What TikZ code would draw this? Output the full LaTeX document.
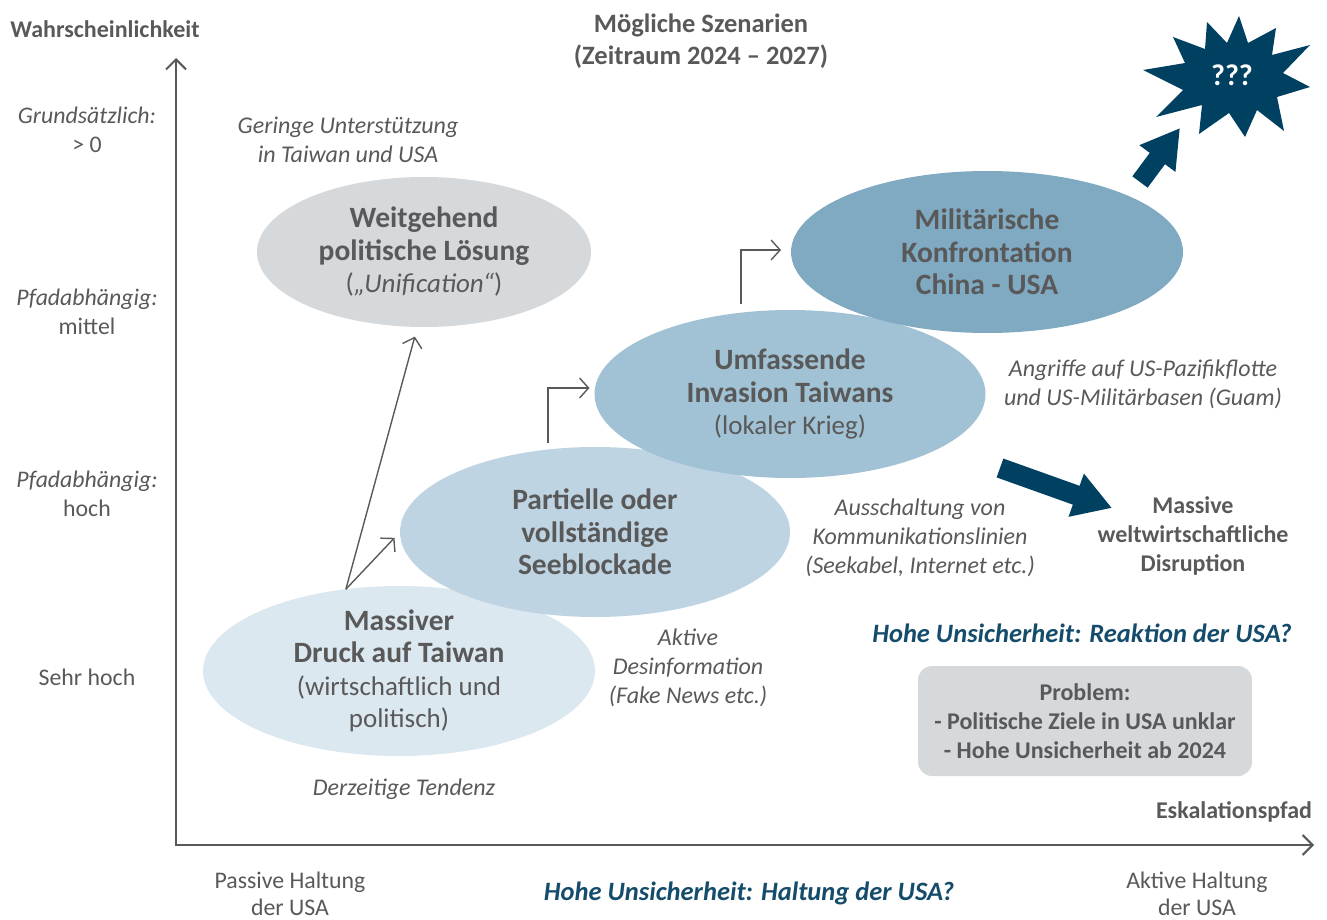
\documentclass[tikz,border=0pt]{standalone}
\usepackage{fontspec}
\setmainfont{Carlito}
\usetikzlibrary{arrows.meta,positioning,shapes.geometric,calc}
\definecolor{txtgray}{HTML}{595959}
\definecolor{deepblue}{HTML}{004060}
\definecolor{qblue}{HTML}{154C6B}
\definecolor{sgray}{HTML}{D5D9DC}
\definecolor{skonf}{HTML}{80A9C2}
\definecolor{sinv}{HTML}{A1C1D4}
\definecolor{ssee}{HTML}{BED4E3}
\definecolor{sdruck}{HTML}{DCE8F0}
\newcommand{\scb}[1]{{\fontsize{29.5}{32.5}\selectfont\bfseries #1}}
\tikzset{
  scen/.style={ellipse,draw=none,inner sep=0pt,outer sep=0pt},
  stext/.style={align=center,text=txtgray,font=\fontsize{27}{32.5}\selectfont},
  snote/.style={align=center,text=txtgray,font=\fontsize{24}{29}\selectfont\itshape},
  slabel/.style={align=center,text=txtgray,font=\fontsize{23.8}{29.5}\selectfont},
  sbold/.style={align=center,text=txtgray,font=\fontsize{24}{29}\selectfont\bfseries},
  squest/.style={text=qblue,font=\fontsize{26.5}{28}\selectfont\bfseries\itshape},
  saxis/.style={{Straight Barb[length=10pt,width=20pt]}-{Straight Barb[length=10pt,width=20pt]},line width=2pt,draw=txtgray},
  sarr/.style={-{Straight Barb[length=9pt,width=20pt]},line width=1.4pt,draw=txtgray},
  sbig/.style={-{Triangle[length=38pt,width=43pt]},line width=20pt,draw=deepblue}
}
\begin{document}
\begin{tikzpicture}[x=1pt,y=-1pt]
  \useasboundingbox (0,0) rectangle (1327,920);
  % axes
  \coordinate (orig) at (176,845);
  \coordinate (ytop) at (176,58);
  \coordinate (xend) at (1314,845);
  \draw[saxis] (ytop) -- (orig) -- (xend);
  \node[sbold] (ylbl) at (105,29) {Wahrscheinlichkeit};
  \node[sbold,font=\fontsize{26.5}{32}\selectfont\bfseries] (title) at (701,41) {Mögliche Szenarien\\(Zeitraum 2024 – 2027)};
  \node[sbold] (xlbl) at (1234,812) {Eskalationspfad};
  \node[slabel] (p0) at (87,130) {\textit{Grundsätzlich:}\\> 0};
  \node[slabel] (p1) at (87,312) {\textit{Pfadabhängig:}\\mittel};
  \node[slabel] (p2) at (87,494) {\textit{Pfadabhängig:}\\hoch};
  \node[slabel] (p3) at (87,677) {Sehr hoch};
  \node[slabel,inner sep=1pt,font=\fontsize{23.8}{27}\selectfont] (passiv) at (290,894) {Passive Haltung\\der USA};
  \node[slabel,inner sep=1pt,font=\fontsize{23.8}{27}\selectfont] (aktiv) at (1197,894) {Aktive Haltung\\der USA};
  \node[squest] (qhalt) at (749,893) {Hohe Unsicherheit: Haltung der USA?};
  % scenarios
  \node[scen,fill=sgray,minimum width=334pt,minimum height=150pt] (loesung) at (424,252) {};
  \node[stext] (loesungt) at (loesung) {\scb{Weitgehend}\\\scb{politische Lösung}\\(\textit{„Unification“})};
  \node[scen,fill=sdruck,minimum width=392pt,minimum height=170pt] (druck) at (399,671) {};
  \node[stext] (druckt) at (druck) {\scb{Massiver}\\\scb{Druck auf Taiwan}\\(wirtschaftlich und\\politisch)};
  \node[scen,fill=ssee,minimum width=390pt,minimum height=170pt] (see) at (595,532) {};
  \node[stext] (seet) at (see) {\scb{Partielle oder}\\\scb{vollständige}\\\scb{Seeblockade}};
  \node[scen,fill=sinv,minimum width=391pt,minimum height=168pt] (inv) at (790,394) {};
  \node[stext] (invt) at (inv) {\scb{Umfassende}\\\scb{Invasion Taiwans}\\(lokaler Krieg)};
  \node[scen,fill=skonf,minimum width=392pt,minimum height=162pt] (konf) at (987,252) {};
  \node[stext] (konft) at (konf) {\scb{Militärische}\\\scb{Konfrontation}\\\scb{China - USA}};
  % paths
  \draw[sarr,shorten >=10pt] (druck.123) -- (loesung.265);
  \draw[sarr,shorten >=8pt] (druck.123) -- (see.west);
  \draw[sarr] ($(see.north)+(-47,-4)$) |- ($(inv.west)+(-5,-6)$);
  \draw[sarr] ($(inv.north)+(-49,-6)$) |- ($(konf.west)+(-10,-2)$);
  % notes
  \node[snote] (gering) at (348,140) {Geringe Unterstützung\\in Taiwan und USA};
  \node[snote] (angriff) at (1143,384) {Angriffe auf US-Pazifikflotte\\und US-Militärbasen (Guam)};
  \node[snote] (kabel) at (920,538) {Ausschaltung von\\Kommunikationslinien\\(Seekabel, Internet etc.)};
  \node[snote] (desinfo) at (688,668) {Aktive\\Desinformation\\(Fake News etc.)};
  \node[snote] (tendenz) at (404,789) {Derzeitige Tendenz};
  \node[sbold] (disrupt) at (1193,536) {Massive\\weltwirtschaftliche\\Disruption};
  \node[squest] (qreakt) at (1082,633) {Hohe Unsicherheit: Reaktion der USA?};
  \node[fill=sgray,rounded corners=14pt,minimum width=334pt,minimum height=110pt] (problem) at (1085,721) {};
  \node[sbold] (problemt) at (problem) {Problem:\\- Politische Ziele in USA unklar\\- Hohe Unsicherheit ab 2024};
  % escalation
  \coordinate (wtail) at (1000,468);
  \coordinate (wtip) at (1112,508);
  \draw[sbig] (wtail) -- (wtip);
  \coordinate (btail) at (1140,182);
  \coordinate (btip) at (1180,128);
  \draw[sbig,line width=19pt,-{Triangle[length=38pt,width=42pt]}] (btail) -- (btip);
  \fill[deepblue] (1239,16) -- (1248,43) -- (1276,28) -- (1272,55) -- (1310,45) -- (1283,73)
    -- (1310,87) -- (1277,97) -- (1284,131) -- (1257,110) -- (1245,137) -- (1229,113)
    -- (1199,134) -- (1202,105) -- (1156,117) -- (1183,90) -- (1143,70) -- (1185,63)
    -- (1173,37) -- (1205,49) -- (1207,22) -- (1227,43) -- cycle;
  \node[text=white,font=\fontsize{30}{30}\selectfont\bfseries] (burst) at (1232,75) {???};
\end{tikzpicture}
\end{document}
